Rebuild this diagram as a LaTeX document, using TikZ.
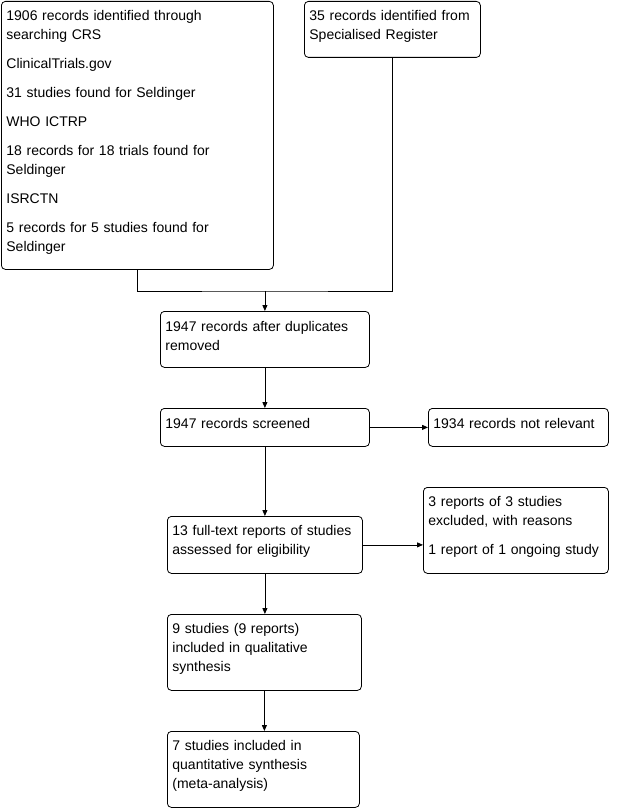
\documentclass[tikz,border=0pt]{standalone}
\usepackage{fontspec}
\setmainfont{Liberation Sans}
\usepackage{tikz}
\usetikzlibrary{arrows.meta,calc}
\tikzset{
  stage/.style={
    draw,
    rectangle,
    rounded corners=4pt,
    anchor=north west,
    align=left,
    inner xsep=5pt,
    inner ysep=0pt,
    execute at end node={\par\vspace{7pt}},
    line width=0.8pt,
    font=\fontsize{14}{19}\selectfont
  },
  link/.style={line width=0.8pt},
  flow/.style={-{Triangle[length=6pt,width=5pt]},line width=0.8pt}
}

\begin{document}
\begin{tikzpicture}[x=1pt,y=-1pt]
\useasboundingbox (0,0) rectangle (622,808);

% sources
\node[stage, text width=262pt, minimum width=272pt, minimum height=268pt] (records) at (1,1) {
  1906 records identified through\\
  searching CRS\\[10pt]
  ClinicalTrials.gov\\[10pt]
  31 studies found for Seldinger\\[10pt]
  WHO ICTRP\\[10pt]
  18 records for 18 trials found for\\
  Seldinger\\[10pt]
  ISRCTN\\[10pt]
  5 records for 5 studies found for\\
  Seldinger
};

\node[stage, text width=166pt, minimum width=176pt, minimum height=56pt] (register) at (304,1) {
  35 records identified from\\
  Specialised Register
};

% screening
\node[stage, text width=199pt, minimum width=209pt, minimum height=56pt] (dedup) at (160,311) {
  1947 records after duplicates\\
  removed
};

\node[stage, text width=199pt, minimum width=209pt, minimum height=38pt] (screened) at (160,408) {
  1947 records screened
};

\node[stage, text width=170pt, minimum width=180pt, minimum height=38pt] (notrelevant) at (428,408) {
  1934 records not relevant
};

% eligibility
\node[stage, text width=185pt, minimum width=195pt, minimum height=57pt] (fulltext) at (167,516) {
  13 full-text reports of studies\\
  assessed for eligibility
};

\node[stage, text width=175pt, minimum width=185pt, minimum height=86pt] (excluded) at (423,487) {
  3 reports of 3 studies\\
  excluded, with reasons\\[10pt]
  1 report of 1 ongoing study
};

% included
\node[stage, text width=184pt, minimum width=194pt, minimum height=76pt] (qualitative) at (167,614) {
  9 studies (9 reports)\\
  included in qualitative\\
  synthesis
};

\node[stage, text width=182pt, minimum width=192pt, minimum height=76pt] (quantitative) at (167,731) {
  7 studies included in\\
  quantitative synthesis\\
  (meta-analysis)
};

% connectors
\coordinate (merge) at ($(dedup.north)+(0,-20)$);
\draw[link] (records.south) |- (merge) -| (register.south);
\draw[flow] (merge) -- (dedup.north);
\draw[flow] (dedup.south) -- (screened.north);
\draw[flow] (screened.east) -- (notrelevant.west);
\draw[flow] (screened.south) -- (screened.south |- fulltext.north);
\draw[flow] (fulltext.east) -- (fulltext.east -| excluded.west);
\draw[flow] (fulltext.south) -- (fulltext.south |- qualitative.north);
\draw[flow] (qualitative.south) -- (qualitative.south |- quantitative.north);

\end{tikzpicture}
\end{document}
